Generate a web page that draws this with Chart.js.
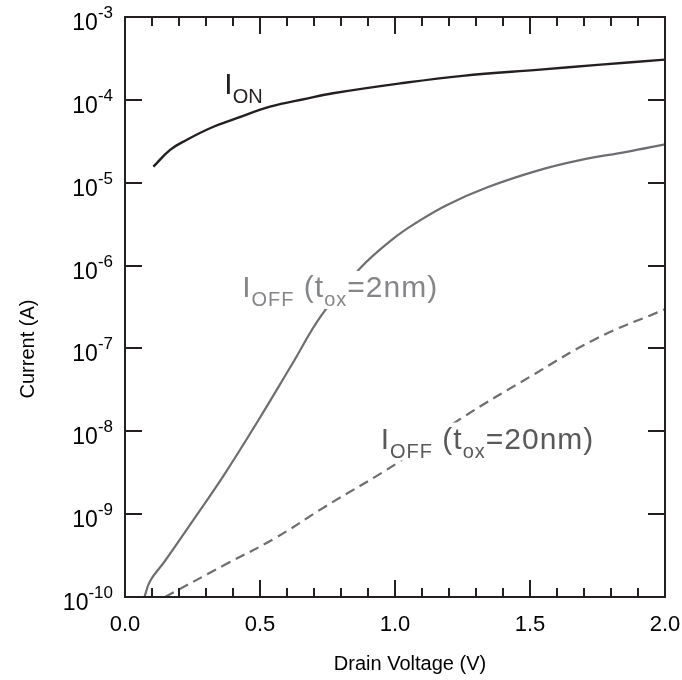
<!DOCTYPE html>
<html><head><meta charset="utf-8">
<script src="https://cdn.jsdelivr.net/npm/chart.js@4/dist/chart.umd.min.js"></script>
<style>html,body{margin:0;padding:0;background:#fff}#wrap{width:682px;height:680px;position:relative}</style>
</head><body><div id="wrap"><canvas id="c"></canvas></div>
<script>
// ---- data ----
const voltsOn   = [0.105, 0.167, 0.228, 0.315, 0.414, 0.537, 0.673, 0.77, 1.02, 1.25, 1.537, 1.75, 2.0];
const currentOn = [1.56e-5, 2.49e-5, 3.28e-5, 4.54e-5, 6.0e-5, 8.28e-5, 1.035e-4, 1.20e-4, 1.58e-4, 1.95e-4, 2.32e-4, 2.64e-4, 3.06e-4];

const voltsOff2   = [0.072, 0.093, 0.148, 0.247, 0.370, 0.494, 0.617, 0.728, 0.870, 0.994, 1.080, 1.191, 1.340, 1.525, 1.685, 1.858, 2.0];
const currentOff2 = [1.0e-10, 1.56e-10, 2.72e-10, 7.94e-10, 3.09e-9, 1.36e-8, 6.31e-8, 2.52e-7, 9.23e-7, 2.12e-6, 3.31e-6, 5.36e-6, 8.75e-6, 1.39e-5, 1.87e-5, 2.36e-5, 2.91e-5];

const voltsOff20   = [0.148, 0.370, 0.556, 0.741, 1.006, 1.241, 1.5, 1.747, 2.0];
const currentOff20 = [1.0e-10, 2.45e-10, 5.13e-10, 1.23e-9, 4.09e-9, 1.40e-8, 4.55e-8, 1.32e-7, 2.97e-7];

const xTickValues = [0, 0.5, 1.0, 1.5, 2.0];
const xTickLabels = ['0.0', '0.5', '1.0', '1.5', '2.0'];
const yTickExponents = [-3, -4, -5, -6, -7, -8, -9, -10];

const xTitle = 'Drain Voltage (V)';
const yTitle = 'Current (A)';

// curve labels: parts [text, isSubscript], anchored in data coordinates (left, baseline)
const curveLabels = [
  { parts: [['I', 0], ['ON', 1]], x: 0.368, y: 1.19e-4, color: '#231f20' },
  { parts: [['I', 0], ['OFF', 1], [' (t', 0], ['ox', 1], ['=2nm)', 0]], x: 0.434, y: 4.18e-7, color: '#858689' },
  { parts: [['I', 0], ['OFF', 1], [' (t', 0], ['ox', 1], ['=20nm)', 0]], x: 0.947, y: 6.18e-9, color: '#58595b' }
];

const pts = (xs, ys) => xs.map((v, i) => ({ x: v, y: ys[i] }));
const FONT = "'Liberation Sans', Arial, Helvetica, sans-serif";
const AXIS = '#231f20';

const decor = {
  id: 'decor',
  afterDraw(chart) {
    const ctx = chart.ctx, a = chart.chartArea;
    const xs = chart.scales.x, ys = chart.scales.y;
    ctx.save();
    // curve labels with white knock-out
    const mainF = '30px ' + FONT, subF = '20px ' + FONT;
    curveLabels.forEach(L => {
      ctx.letterSpacing = L.parts.length > 2 ? '1px' : '0px';
      let px = xs.getPixelForValue(L.x), py = ys.getPixelForValue(L.y);
      let w = 0;
      L.parts.forEach(p => { ctx.font = p[1] ? subF : mainF; w += ctx.measureText(p[0]).width; });
      ctx.fillStyle = '#fff';
      ctx.fillRect(px - 2, py - 26, w + 4, 38);
      ctx.fillStyle = L.color;
      ctx.textBaseline = 'alphabetic'; ctx.textAlign = 'left';
      let cx = px;
      L.parts.forEach(p => {
        ctx.font = p[1] ? subF : mainF;
        ctx.fillText(p[0], cx, p[1] ? py + 9 : py);
        cx += ctx.measureText(p[0]).width;
      });
    });
    ctx.letterSpacing = '0px';
    // frame
    ctx.strokeStyle = AXIS; ctx.lineWidth = 2;
    ctx.strokeRect(a.left, a.top, a.right - a.left, a.bottom - a.top);
    // x ticks (minor every 0.1)
    ctx.beginPath();
    for (let i = 0; i <= 20; i++) {
      const p = Math.round(xs.getPixelForValue(i / 10));
      const len = i % 5 === 0 ? 17 : 9;
      ctx.moveTo(p, a.bottom); ctx.lineTo(p, a.bottom - len);
      ctx.moveTo(p, a.top); ctx.lineTo(p, a.top + len);
    }
    // y ticks at decades
    yTickExponents.forEach(e => {
      const p = Math.round(ys.getPixelForValue(Math.pow(10, e)));
      ctx.moveTo(a.left, p); ctx.lineTo(a.left + 17, p);
      ctx.moveTo(a.right, p); ctx.lineTo(a.right - 17, p);
    });
    ctx.stroke();
    // x tick labels
    ctx.fillStyle = '#000';
    ctx.font = '22px ' + FONT; ctx.textAlign = 'center'; ctx.textBaseline = 'alphabetic';
    xTickValues.forEach((v, i) => {
      ctx.fillText(xTickLabels[i], xs.getPixelForValue(v), a.bottom + 34);
    });
    // y tick labels 10^e
    ctx.textAlign = 'left';
    yTickExponents.forEach(e => {
      const p = ys.getPixelForValue(Math.pow(10, e));
      const sup = String(e);
      ctx.font = '17px ' + FONT; const ws = ctx.measureText(sup).width;
      ctx.font = '23px ' + FONT; const wb = ctx.measureText('10').width;
      const right = a.left - 12;
      ctx.fillText('10', right - ws - wb, p + 13);
      ctx.font = '17px ' + FONT;
      ctx.fillText(sup, right - ws, p + 1);
    });
    // axis titles
    ctx.font = '20px ' + FONT; ctx.textAlign = 'center';
    ctx.fillText(xTitle, 410, a.bottom + 73);
    ctx.translate(34, 349); ctx.rotate(-Math.PI / 2);
    ctx.fillText(yTitle, 0, 0);
    ctx.restore();
  }
};

new Chart(document.getElementById('c'), {
  type: 'line',
  data: {
    datasets: [
      { label: 'I_ON', data: pts(voltsOn, currentOn), borderColor: '#231f20', borderWidth: 2.4, pointRadius: 0, tension: 0.4, fill: false },
      { label: 'I_OFF (tox=2nm)', data: pts(voltsOff2, currentOff2), borderColor: '#6d6e71', borderWidth: 2.2, pointRadius: 0, tension: 0.4, fill: false },
      { label: 'I_OFF (tox=20nm)', data: pts(voltsOff20, currentOff20), borderColor: '#6d6e71', borderWidth: 2.2, borderDash: [10, 6], pointRadius: 0, tension: 0.4, fill: false }
    ]
  },
  options: {
    responsive: true, maintainAspectRatio: false, animation: false, devicePixelRatio: 1,
    layout: { padding: { left: 125, top: 17, right: 17, bottom: 83 } },
    plugins: { legend: { display: false }, tooltip: { enabled: false } },
    scales: {
      x: { type: 'linear', min: 0, max: 2, display: false },
      y: { type: 'logarithmic', min: 1e-10, max: 1e-3, display: false }
    }
  },
  plugins: [decor]
});
</script></body></html>
